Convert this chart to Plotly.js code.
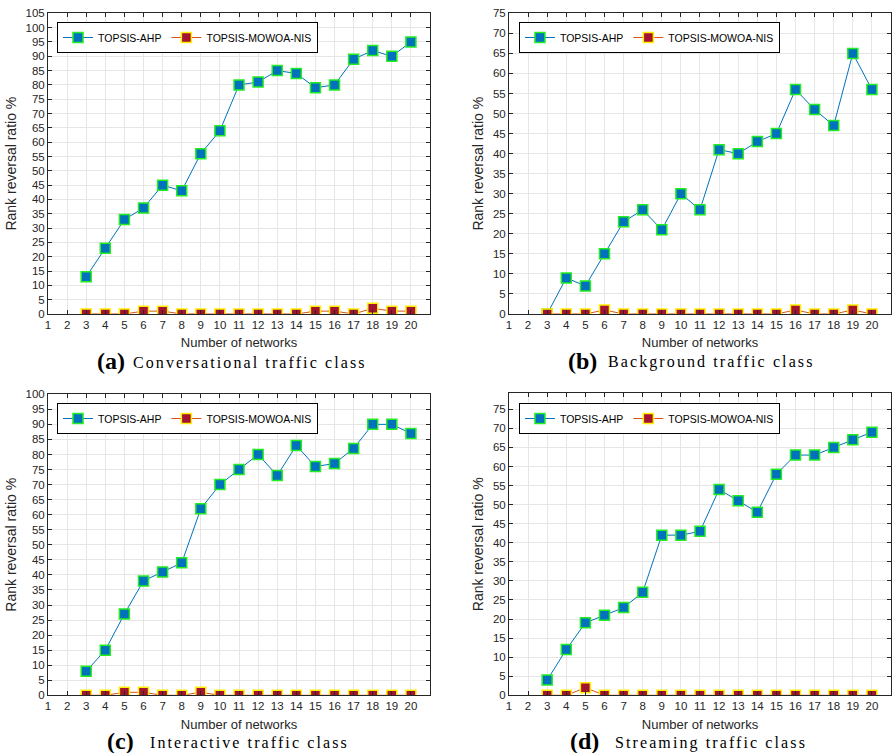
<!DOCTYPE html>
<html><head><meta charset="utf-8">
<script src="https://cdn.plot.ly/plotly-3.0.1.min.js"></script>
<style>html,body{margin:0;padding:0;background:#fff}</style>
</head><body><div id="chart" style="width:892px;height:753px"></div>
<script>
// ---- data ----
const networks = [3,4,5,6,7,8,9,10,11,12,13,14,15,16,17,18,19,20];
const xTickVals = [1,2,3,4,5,6,7,8,9,10,11,12,13,14,15,16,17,18,19,20];
const seriesNames = ['TOPSIS-AHP', 'TOPSIS-MOWOA-NIS'];

const ahpConversational   = [13,23,33,37,45,43,56,64,80,81,85,84,79,80,89,92,90,95];
const mowoaConversational = [0,0,0,1,1,0,0,0,0,0,0,0,1,1,0,2,1,1];

const ahpBackground   = [0,9,7,15,23,26,21,30,26,41,40,43,45,56,51,47,65,56];
const mowoaBackground = [0,0,0,1,0,0,0,0,0,0,0,0,0,1,0,0,1,0];

const ahpInteractive   = [8,15,27,38,41,44,62,70,75,80,73,83,76,77,82,90,90,87];
const mowoaInteractive = [0,0,1,1,0,0,1,0,0,0,0,0,0,0,0,0,0,0];

const ahpStreaming   = [4,12,19,21,23,27,42,42,43,54,51,48,58,63,63,65,67,69];
const mowoaStreaming = [0,0,2,0,0,0,0,0,0,0,0,0,0,0,0,0,0,0];

const panelLetters = ['(a)','(b)','(c)','(d)'];
const panelCaptions = ['Conversational traffic class','Background traffic class','Interactive traffic class','Streaming traffic class'];
const yMax = [105, 75, 100, 79.2];

// ---- styles ----
const FONT = 'Liberation Sans, Arial, sans-serif';
const SERIF = 'Liberation Serif, DejaVu Serif, serif';
const AXC = '#262626';
const panels = [
  {ahp: ahpConversational, mowoa: mowoaConversational, xd:[0.0538,0.4821], yd:[0.583,0.9823], leg:[0.0639,0.9708]},
  {ahp: ahpBackground,     mowoa: mowoaBackground,     xd:[0.5706,0.9989], yd:[0.583,0.9823], leg:[0.5818,0.9708]},
  {ahp: ahpInteractive,    mowoa: mowoaInteractive,    xd:[0.0538,0.4821], yd:[0.0766,0.4764], leg:[0.0639,0.4648]},
  {ahp: ahpStreaming,      mowoa: mowoaStreaming,      xd:[0.5706,0.9989], yd:[0.0766,0.4777], leg:[0.5818,0.4648]}
];
const capPos = [
  {lx:0.1424, tx:0.1469, y:0.5206},
  {lx:0.6712, tx:0.6794, y:0.5206},
  {lx:0.1525, tx:0.1659, y:0.0159},
  {lx:0.6738, tx:0.6872, y:0.0159}
];

const traces = [];
const layout = {
  width: 892, height: 753,
  margin: {l:0, r:0, t:0, b:0},
  paper_bgcolor: '#fff', plot_bgcolor: '#fff',
  font: {family: FONT, size: 11.5, color: AXC},
  annotations: [],
  showlegend: true
};

panels.forEach((p, i) => {
  const n = i === 0 ? '' : String(i+1);
  const legName = 'legend' + n;
  traces.push({
    x: networks, y: p.ahp, type: 'scatter', mode: 'lines+markers',
    name: seriesNames[0], xaxis: 'x'+n, yaxis: 'y'+n, legend: legName,
    line: {color: '#0072BD', width: 1},
    marker: {symbol: 'square', size: 10, color: '#0072BD', line: {color: '#22ee22', width: 1.5}}
  });
  traces.push({
    x: networks, y: p.mowoa, type: 'scatter', mode: 'lines+markers',
    name: seriesNames[1], xaxis: 'x'+n, yaxis: 'y'+n, legend: legName,
    line: {color: '#D95319', width: 1},
    marker: {symbol: 'square', size: 10, color: '#A2142F', line: {color: '#ffee00', width: 1.5}}
  });
  layout['xaxis'+n] = {
    domain: p.xd, anchor: 'y'+n, range: [1, 21],
    tickvals: xTickVals, ticks: 'inside', ticklen: 4, tickcolor: AXC,
    showline: true, linecolor: AXC, linewidth: 1, mirror: 'ticks',
    showgrid: true, gridcolor: '#e6e6e6', zeroline: false,
    tickfont: {size: 11.5, color: AXC, family: FONT},
    title: {text: 'Number of networks', font: {size: 13, color: AXC, family: FONT}, standoff: 8}
  };
  layout['yaxis'+n] = {
    domain: p.yd, anchor: 'x'+n, range: [0, yMax[i]],
    dtick: 5, tick0: 0, ticks: 'inside', ticklen: 4, tickcolor: AXC,
    showline: true, linecolor: AXC, linewidth: 1, mirror: 'ticks',
    showgrid: true, gridcolor: '#e6e6e6', zeroline: false,
    tickfont: {size: 11.5, color: AXC, family: FONT},
    title: {text: 'Rank reversal ratio %', font: {size: 14, color: AXC, family: FONT}, standoff: 5}
  };
  layout[legName] = {
    x: p.leg[0], y: p.leg[1], xref: 'paper', yref: 'paper',
    xanchor: 'left', yanchor: 'top', orientation: 'h',
    bgcolor: '#fff', bordercolor: '#000', borderwidth: 1,
    font: {size: 10.5, color: '#000', family: FONT},
    itemwidth: 30, tracegroupgap: 0
  };
  const c = capPos[i];
  layout.annotations.push({
    xref: 'paper', yref: 'paper', x: c.lx, y: c.y, xanchor: 'right', yanchor: 'middle',
    text: '<b>' + panelLetters[i] + '</b>', showarrow: false,
    font: {family: SERIF, size: 24, color: '#000'}
  });
  layout.annotations.push({
    xref: 'paper', yref: 'paper', x: c.tx, y: c.y - 0.002, xanchor: 'left', yanchor: 'middle',
    text: '<span style="letter-spacing:2.1px">' + panelCaptions[i] + '</span>', showarrow: false,
    font: {family: SERIF, size: 16, color: '#000'}
  });
});

Plotly.newPlot('chart', traces, layout, {displayModeBar: false, staticPlot: true});
</script>
</body></html>
